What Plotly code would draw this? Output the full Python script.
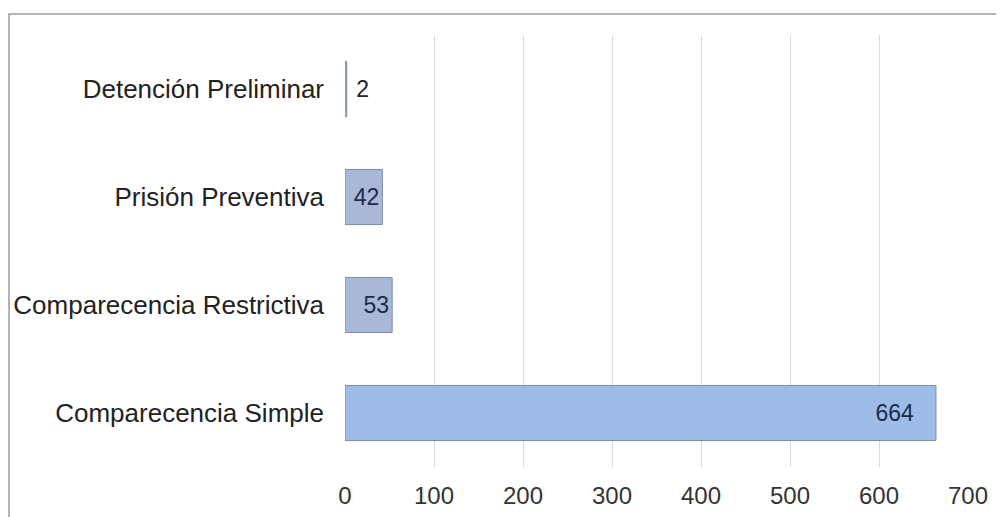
import plotly.graph_objects as go

categories = ["Comparecencia Simple", "Comparecencia Restrictiva", "Prisión Preventiva", "Detención Preliminar"]
values = [664, 53, 42, 2]
tick_vals = [0, 100, 200, 300, 400, 500, 600, 700]
tick_text = ["0", "100", "200", "300", "400", "500", "600", "700"]

bar_colors = ["#9dbde8", "#a9b8d6", "#a9b8d6", "#a9b8d6"]
text_positions = ["inside", "inside", "inside", "outside"]
NB = "\u00a0"
text_templates = ["%{x}" + NB * 3, "%{x}", "%{x}", NB + "%{x}"]

fig = go.Figure()
fig.add_trace(go.Bar(
    y=categories,
    x=values,
    orientation="h",
    texttemplate=text_templates,
    textposition=text_positions,
    insidetextanchor="end",
    textfont=dict(family="Liberation Sans, Arial, sans-serif", size=23, color="#1c2a48"),
    outsidetextfont=dict(family="Liberation Sans, Arial, sans-serif", size=23, color="#222222"),
    cliponaxis=False,
    marker=dict(color=bar_colors, line=dict(color="#7d8ca8", width=1)),
    hoverinfo="skip",
))

# page body adds an 8px offset; size the figure to fit the window
W, H = 996, 509
ml, mr, mt, mb = 337, 36, 27, 50
pw, ph = W - ml - mr, H - mt - mb

fig.update_layout(
    width=W, height=H, autosize=False,
    margin=dict(l=ml, r=mr, t=mt, b=mb, pad=0),
    paper_bgcolor="white", plot_bgcolor="white",
    showlegend=False,
    bargap=0.49,
    font=dict(family="Liberation Sans, Arial, sans-serif", color="#222222"),
    xaxis=dict(
        range=[0, 700], tickvals=tick_vals, ticktext=tick_text,
        showgrid=True, gridcolor="#dadada", gridwidth=1,
        zeroline=False, showline=False, ticks="",
        tickfont=dict(size=24, color="#333333"),
        ticklabelstandoff=12, automargin=False,
    ),
    yaxis=dict(
        categoryorder="array", categoryarray=categories,
        showgrid=False, zeroline=False, showline=False, ticks="",
        tickfont=dict(size=26, color="#222222"),
        ticklabelstandoff=20, automargin=False,
    ),
    shapes=[dict(
        type="rect", xref="paper", yref="paper",
        x0=(1 - ml) / pw, x1=(1010 - ml) / pw,
        y0=(H - mb - 530) / ph, y1=(H - mb - 6) / ph,
        line=dict(color="#9a9a9a", width=1.5), fillcolor="rgba(0,0,0,0)",
        layer="below",
    )],
)

fig.write_html("out.html")
